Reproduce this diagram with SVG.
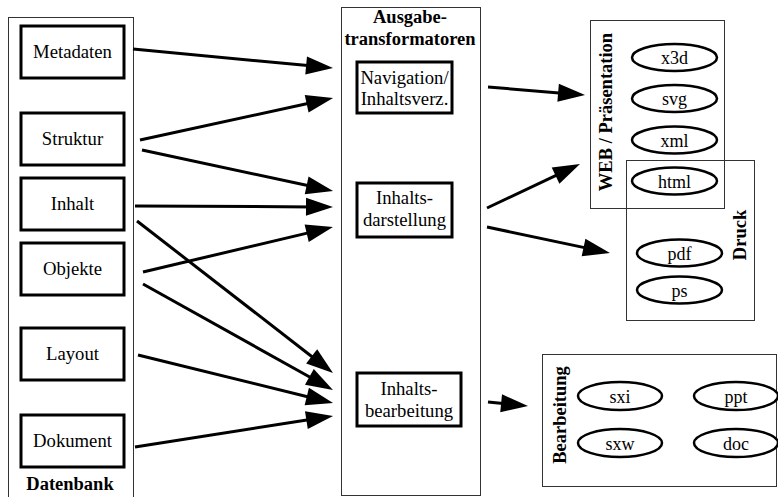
<svg xmlns="http://www.w3.org/2000/svg" width="778" height="497" viewBox="0 0 778 497" font-family="Tinos, Times New Roman, Liberation Serif, serif">
<style>
.t{font-size:18.7px;text-anchor:middle;fill:#000}
.b{font-size:18.5px;font-weight:bold;text-anchor:middle;fill:#000}
.e{font-size:18px;text-anchor:middle;fill:#000}
.node{fill:#fff;stroke:#000;stroke-width:3}
.grp{fill:none;stroke:#333;stroke-width:1}
.ell{fill:#fff;stroke:#000;stroke-width:2.5}
.con line{stroke:#000;stroke-width:3;marker-end:url(#ah)}
</style>
<defs>
<marker id="ah" markerUnits="userSpaceOnUse" markerWidth="30" markerHeight="20" refX="7" refY="9" orient="auto" overflow="visible">
<path d="M0,0 L27,9 L0,18 z" fill="#000"/>
</marker>
</defs>
<rect width="778" height="497" fill="#fff"/>

<g id="datenbank">
<rect class="grp" x="8.5" y="17.5" width="125" height="490"/>
<text class="b" x="70" y="490">Datenbank</text>
</g>
<g id="metadaten"><rect class="node" x="21" y="26" width="103" height="52"/><text class="t" x="72.5" y="58">Metadaten</text></g>
<g id="struktur"><rect class="node" x="21" y="113" width="103" height="52"/><text class="t" x="72.5" y="145">Struktur</text></g>
<g id="inhalt"><rect class="node" x="21" y="178" width="103" height="52"/><text class="t" x="72.5" y="210">Inhalt</text></g>
<g id="objekte"><rect class="node" x="21" y="243" width="103" height="52"/><text class="t" x="72.5" y="275">Objekte</text></g>
<g id="layout"><rect class="node" x="21" y="328" width="103" height="52"/><text class="t" x="72.5" y="360">Layout</text></g>
<g id="dokument"><rect class="node" x="21" y="415" width="103" height="52"/><text class="t" x="72.5" y="447">Dokument</text></g>

<g id="ausgabe">
<rect class="grp" x="341.5" y="7.5" width="139" height="488"/>
<text class="b" x="410" y="23">Ausgabe-</text>
<text class="b" x="410" y="45">transformatoren</text>
</g>
<g id="navigation"><rect class="node" x="357" y="62" width="95" height="51"/><text class="t" x="404.5" y="84">Navigation/</text><text class="t" x="404.5" y="105">Inhaltsverz.</text></g>
<g id="inhaltsdarstellung"><rect class="node" x="357" y="183" width="95" height="54"/><text class="t" x="404.5" y="204">Inhalts-</text><text class="t" x="404.5" y="226">darstellung</text></g>
<g id="inhaltsbearbeitung"><rect class="node" x="357" y="373" width="104" height="53"/><text class="t" x="409" y="395">Inhalts-</text><text class="t" x="409" y="417">bearbeitung</text></g>

<g id="web">
<rect class="grp" x="590.5" y="20.5" width="134" height="188"/>
<text class="b" transform="translate(612,112) rotate(-90)" x="0" y="0">WEB / Präsentation</text>
</g>
<g id="druck">
<rect class="grp" x="626.5" y="160.5" width="128" height="160"/>
<text class="b" transform="translate(746,235) rotate(-90)" x="0" y="0">Druck</text>
</g>
<g id="x3d"><ellipse class="ell" cx="674.5" cy="57.5" rx="42.5" ry="13.5"/><text class="e" x="674.5" y="64">x3d</text></g>
<g id="svg"><ellipse class="ell" cx="674.5" cy="98.5" rx="42.5" ry="13.5"/><text class="e" x="674.5" y="105">svg</text></g>
<g id="xml"><ellipse class="ell" cx="674.5" cy="140" rx="42.5" ry="13.5"/><text class="e" x="674.5" y="146.5">xml</text></g>
<g id="html"><ellipse class="ell" cx="674.5" cy="181" rx="42.5" ry="13.5"/><text class="e" x="674.5" y="187.5">html</text></g>
<g id="pdf"><ellipse class="ell" cx="679.5" cy="253" rx="42.5" ry="13.5"/><text class="e" x="679.5" y="259.5">pdf</text></g>
<g id="ps"><ellipse class="ell" cx="679.5" cy="290" rx="42.5" ry="13.5"/><text class="e" x="679.5" y="296.5">ps</text></g>

<g id="bearbeitung">
<rect class="grp" x="542.5" y="354.5" width="234" height="132"/>
<text class="b" transform="translate(566,415) rotate(-90)" x="0" y="0">Bearbeitung</text>
</g>
<g id="sxi"><ellipse class="ell" cx="620" cy="396" rx="42" ry="14"/><text class="e" x="620" y="402.5">sxi</text></g>
<g id="ppt"><ellipse class="ell" cx="736" cy="396" rx="42" ry="14"/><text class="e" x="736" y="402.5">ppt</text></g>
<g id="sxw"><ellipse class="ell" cx="620" cy="443" rx="42" ry="14"/><text class="e" x="620" y="449.5">sxw</text></g>
<g id="doc"><ellipse class="ell" cx="736" cy="443" rx="42" ry="14"/><text class="e" x="736" y="449.5">doc</text></g>

<g id="connectors" class="con">
<line x1="133" y1="49" x2="313.1" y2="66.1"/>
<line x1="140" y1="140" x2="313.5" y2="102.3"/>
<line x1="142" y1="150" x2="313.5" y2="186.8"/>
<line x1="135" y1="206" x2="313" y2="206.9"/>
<line x1="143" y1="272" x2="313.5" y2="231.6"/>
<line x1="137" y1="221" x2="317.2" y2="360.7"/>
<line x1="143" y1="284" x2="315.5" y2="380.3"/>
<line x1="138" y1="355" x2="313.6" y2="398.2"/>
<line x1="135" y1="447" x2="313.3" y2="419"/>
<line x1="488" y1="87" x2="565.1" y2="93.4"/>
<line x1="487" y1="208" x2="561.9" y2="172.6"/>
<line x1="487" y1="227" x2="590.4" y2="248.9"/>
<line x1="488" y1="402" x2="508.1" y2="404"/>
</g>
</svg>
